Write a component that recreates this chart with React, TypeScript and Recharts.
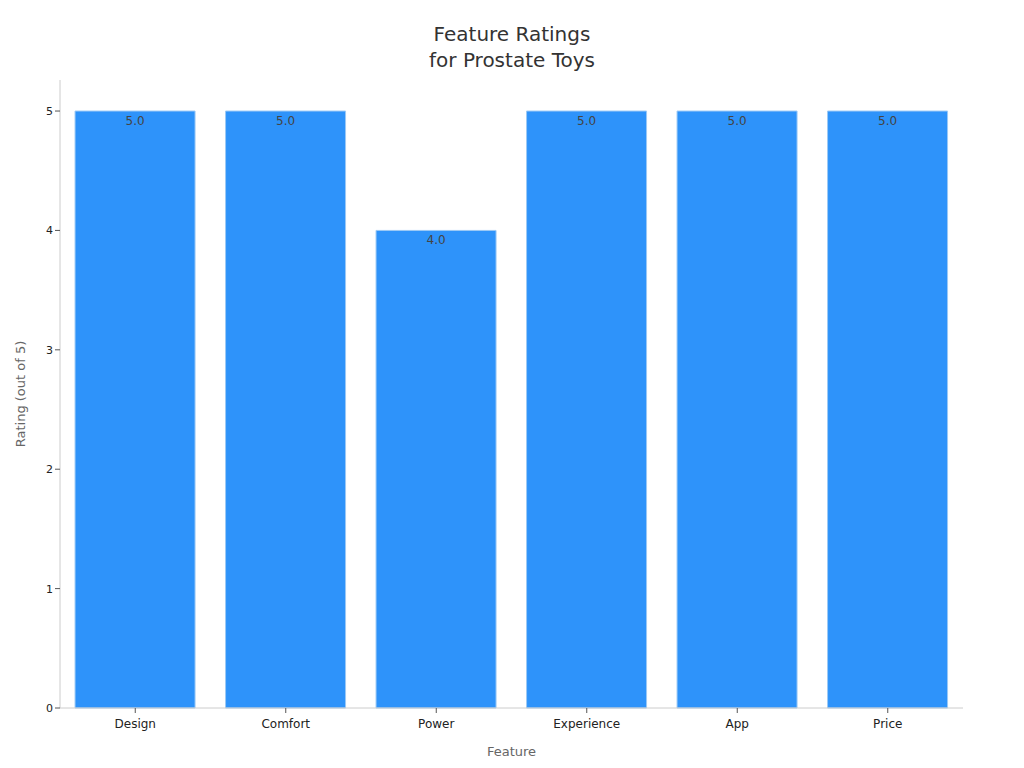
import { BarChart, Bar, XAxis, YAxis, LabelList } from "recharts";

const features = ["Design", "Comfort", "Power", "Experience", "App", "Price"];
const ratings = [5.0, 5.0, 4.0, 5.0, 5.0, 5.0];
const yTicks = [0, 1, 2, 3, 4, 5];

const data = features.map((name, i) => ({ name, rating: ratings[i] }));

const font = "'DejaVu Sans', sans-serif";

export default function App() {
  return (
    <div style={{ position: "absolute", left: 0, top: 0, width: 1024, height: 768, background: "#fff", fontFamily: font }}>
      <div
        style={{
          position: "absolute",
          top: 21,
          left: 0,
          width: 1024,
          textAlign: "center",
          fontSize: 20,
          lineHeight: "26px",
          color: "#333",
        }}
      >
        Feature Ratings
        <br />
        for Prostate Toys
      </div>
      <BarChart
        width={1024}
        height={768}
        data={data}
        margin={{ top: 80, right: 61, bottom: 0, left: 0 }}
        barCategoryGap="10%"
      >
        <XAxis
          dataKey="name"
          height={60}
          stroke="#ccc"
          tickLine={{ stroke: "#555" }}
          tickSize={5}
          tickMargin={6}
          tick={{ fill: "#222", fontSize: 12, fontFamily: font }}
          label={{ value: "Feature", position: "insideBottom", offset: 12, fill: "#666", fontSize: 13, fontFamily: font }}
        />
        <YAxis
          width={60}
          domain={[0, 5.26]}
          ticks={yTicks}
          stroke="#ccc"
          tickLine={{ stroke: "#555" }}
          tickSize={5}
          tick={{ fill: "#222", fontSize: 11, fontFamily: font }}
          label={{
            value: "Rating (out of 5)",
            angle: -90,
            position: "insideLeft",
            offset: 20,
            style: { textAnchor: "middle" },
            fill: "#666",
            fontSize: 13,
            fontFamily: font,
          }}
        />
        <Bar dataKey="rating" fill="#2E93FA" stroke="#9cc9f5" strokeWidth={1} isAnimationActive={false}>
          <LabelList
            dataKey="rating"
            position="insideTop"
            offset={5}
            formatter={(v: number) => v.toFixed(1)}
            fill="#444"
            fontSize={12}
            fontFamily={font}
          />
        </Bar>
      </BarChart>
    </div>
  );
}
